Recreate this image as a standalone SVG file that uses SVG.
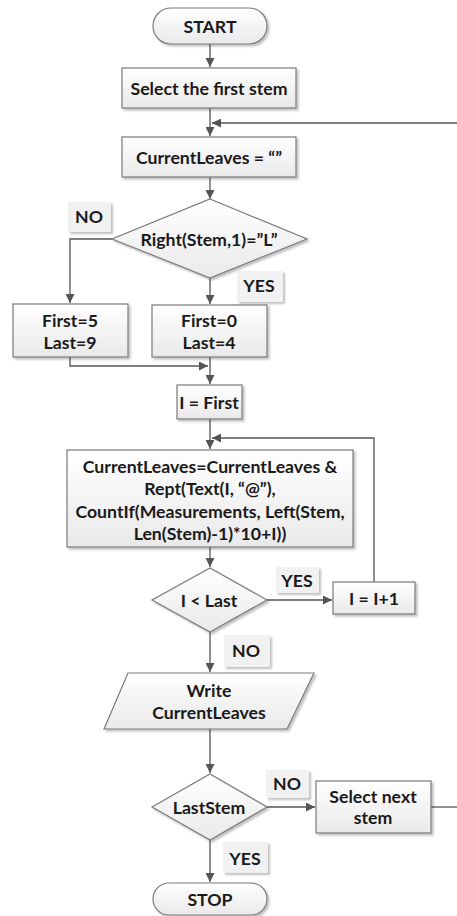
<svg xmlns="http://www.w3.org/2000/svg" width="457" height="916" viewBox="0 0 457 916">
  <defs>
    <linearGradient id="boxFill" x1="0" y1="0" x2="0" y2="1">
      <stop offset="0" stop-color="#ffffff"/>
      <stop offset="1" stop-color="#e9e9e9"/>
    </linearGradient>
    <filter id="shadow" x="-10%" y="-10%" width="130%" height="140%">
      <feGaussianBlur in="SourceAlpha" stdDeviation="1.2"/>
      <feOffset dx="2" dy="2" result="b"/>
      <feComponentTransfer><feFuncA type="linear" slope="0.25"/></feComponentTransfer>
      <feMerge><feMergeNode/><feMergeNode in="SourceGraphic"/></feMerge>
    </filter>
    <marker id="arrow" viewBox="0 0 10 10" refX="10" refY="5" markerWidth="9" markerHeight="9" markerUnits="userSpaceOnUse" orient="auto">
      <path d="M0,0 L10,5 L0,10 z" fill="#555555"/>
    </marker>
  </defs>
  <style>
    .shape { fill: url(#boxFill); stroke: #7a7a7a; stroke-width: 1.2; filter: url(#shadow); }
    .tag { fill: #f1f1f1; stroke: none; filter: url(#shadow); }
    .t { font-family: Lato, "Liberation Sans", sans-serif; font-weight: bold; font-size: 17.7px; fill: #1a1a1a; text-anchor: middle; dominant-baseline: central; }
    .edge { fill: none; stroke: #555555; stroke-width: 1.3; }
    .edge.arr { marker-end: url(#arrow); }
  </style>
  <rect width="457" height="916" fill="#ffffff"/>

  <!-- connectors -->
  <g id="connectors">
    <path class="edge arr" d="M210,44 V67"/>
    <path class="edge arr" d="M210,108 V136"/>
    <path class="edge arr" d="M457,123 H212"/>
    <path class="edge arr" d="M210,177 V199"/>
    <path class="edge arr" d="M112,239 H70 V303"/>
    <path class="edge arr" d="M210,278 V304"/>
    <path class="edge arr" d="M70,357 V366 H208"/>
    <path class="edge arr" d="M210,357 V384"/>
    <path class="edge arr" d="M210,419 V449"/>
    <path class="edge arr" d="M374,582 V438 H212"/>
    <path class="edge arr" d="M210,547 V567"/>
    <path class="edge arr" d="M267,600 H332"/>
    <path class="edge arr" d="M210,632 V672"/>
    <path class="edge arr" d="M210,729 V773"/>
    <path class="edge arr" d="M267,807 H315"/>
    <path class="edge" d="M431,807 H457"/>
    <path class="edge arr" d="M210,840 V882"/>
  </g>

  <!-- branch labels -->
  <g id="labels">
    <rect class="tag" x="68" y="202" width="43" height="30"/>
    <text class="t" x="89" y="216">NO</text>
    <rect class="tag" x="237" y="271" width="46" height="31"/>
    <text class="t" x="259" y="285">YES</text>
    <rect class="tag" x="276" y="567" width="43" height="26"/>
    <text class="t" x="297" y="580">YES</text>
    <rect class="tag" x="224" y="635" width="46" height="32"/>
    <text class="t" x="246" y="650">NO</text>
    <rect class="tag" x="266" y="770" width="43" height="28"/>
    <text class="t" x="287" y="783">NO</text>
    <rect class="tag" x="223" y="842" width="45" height="31"/>
    <text class="t" x="245" y="858">YES</text>
  </g>

  <g id="start">
    <rect class="shape" x="153" y="8" width="114" height="36" rx="18" ry="18"/>
    <text class="t" x="210" y="26">START</text>
  </g>
  <g id="select-first">
    <rect class="shape" x="122" y="68" width="174" height="40"/>
    <text class="t" x="209" y="88">Select the first stem</text>
  </g>
  <g id="reset-leaves">
    <rect class="shape" x="122" y="137" width="174" height="40"/>
    <text class="t" x="209" y="157">CurrentLeaves = “”</text>
  </g>
  <g id="check-suffix">
    <polygon class="shape" points="210,199 307,239 210,278 112,239"/>
    <text class="t" x="209" y="239">Right(Stem,1)=”L”</text>
  </g>
  <g id="range-high">
    <rect class="shape" x="13" y="304" width="115" height="53"/>
    <text class="t" x="70" y="320">First=5</text>
    <text class="t" x="70" y="342">Last=9</text>
  </g>
  <g id="range-low">
    <rect class="shape" x="152" y="305" width="115" height="52"/>
    <text class="t" x="209" y="320">First=0</text>
    <text class="t" x="209" y="342">Last=4</text>
  </g>
  <g id="init-i">
    <rect class="shape" x="177" y="385" width="65" height="34"/>
    <text class="t" x="209" y="402">I = First</text>
  </g>
  <g id="append-leaves">
    <rect class="shape" x="67" y="450" width="286" height="97"/>
    <text class="t" x="210" y="466">CurrentLeaves=CurrentLeaves &amp;</text>
    <text class="t" x="210" y="488">Rept(Text(I, “@”),</text>
    <text class="t" x="210" y="511">CountIf(Measurements, Left(Stem,</text>
    <text class="t" x="210" y="533">Len(Stem)-1)*10+I))</text>
  </g>
  <g id="check-i">
    <polygon class="shape" points="210,568 267,600 210,632 152,600"/>
    <text class="t" x="209" y="600">I &lt; Last</text>
  </g>
  <g id="inc-i">
    <rect class="shape" x="333" y="582" width="82" height="32"/>
    <text class="t" x="374" y="598">I = I+1</text>
  </g>
  <g id="write-leaves">
    <polygon class="shape" points="128,673 314,673 287,729 104,729"/>
    <text class="t" x="209" y="690">Write</text>
    <text class="t" x="209" y="712">CurrentLeaves</text>
  </g>
  <g id="check-last">
    <polygon class="shape" points="210,774 267,807 210,840 152,807"/>
    <text class="t" x="209" y="807">LastStem</text>
  </g>
  <g id="select-next">
    <rect class="shape" x="316" y="781" width="115" height="52"/>
    <text class="t" x="373" y="796">Select next</text>
    <text class="t" x="373" y="817">stem</text>
  </g>
  <g id="stop">
    <rect class="shape" x="153" y="883" width="114" height="32" rx="16" ry="16"/>
    <text class="t" x="210" y="899">STOP</text>
  </g>
</svg>
